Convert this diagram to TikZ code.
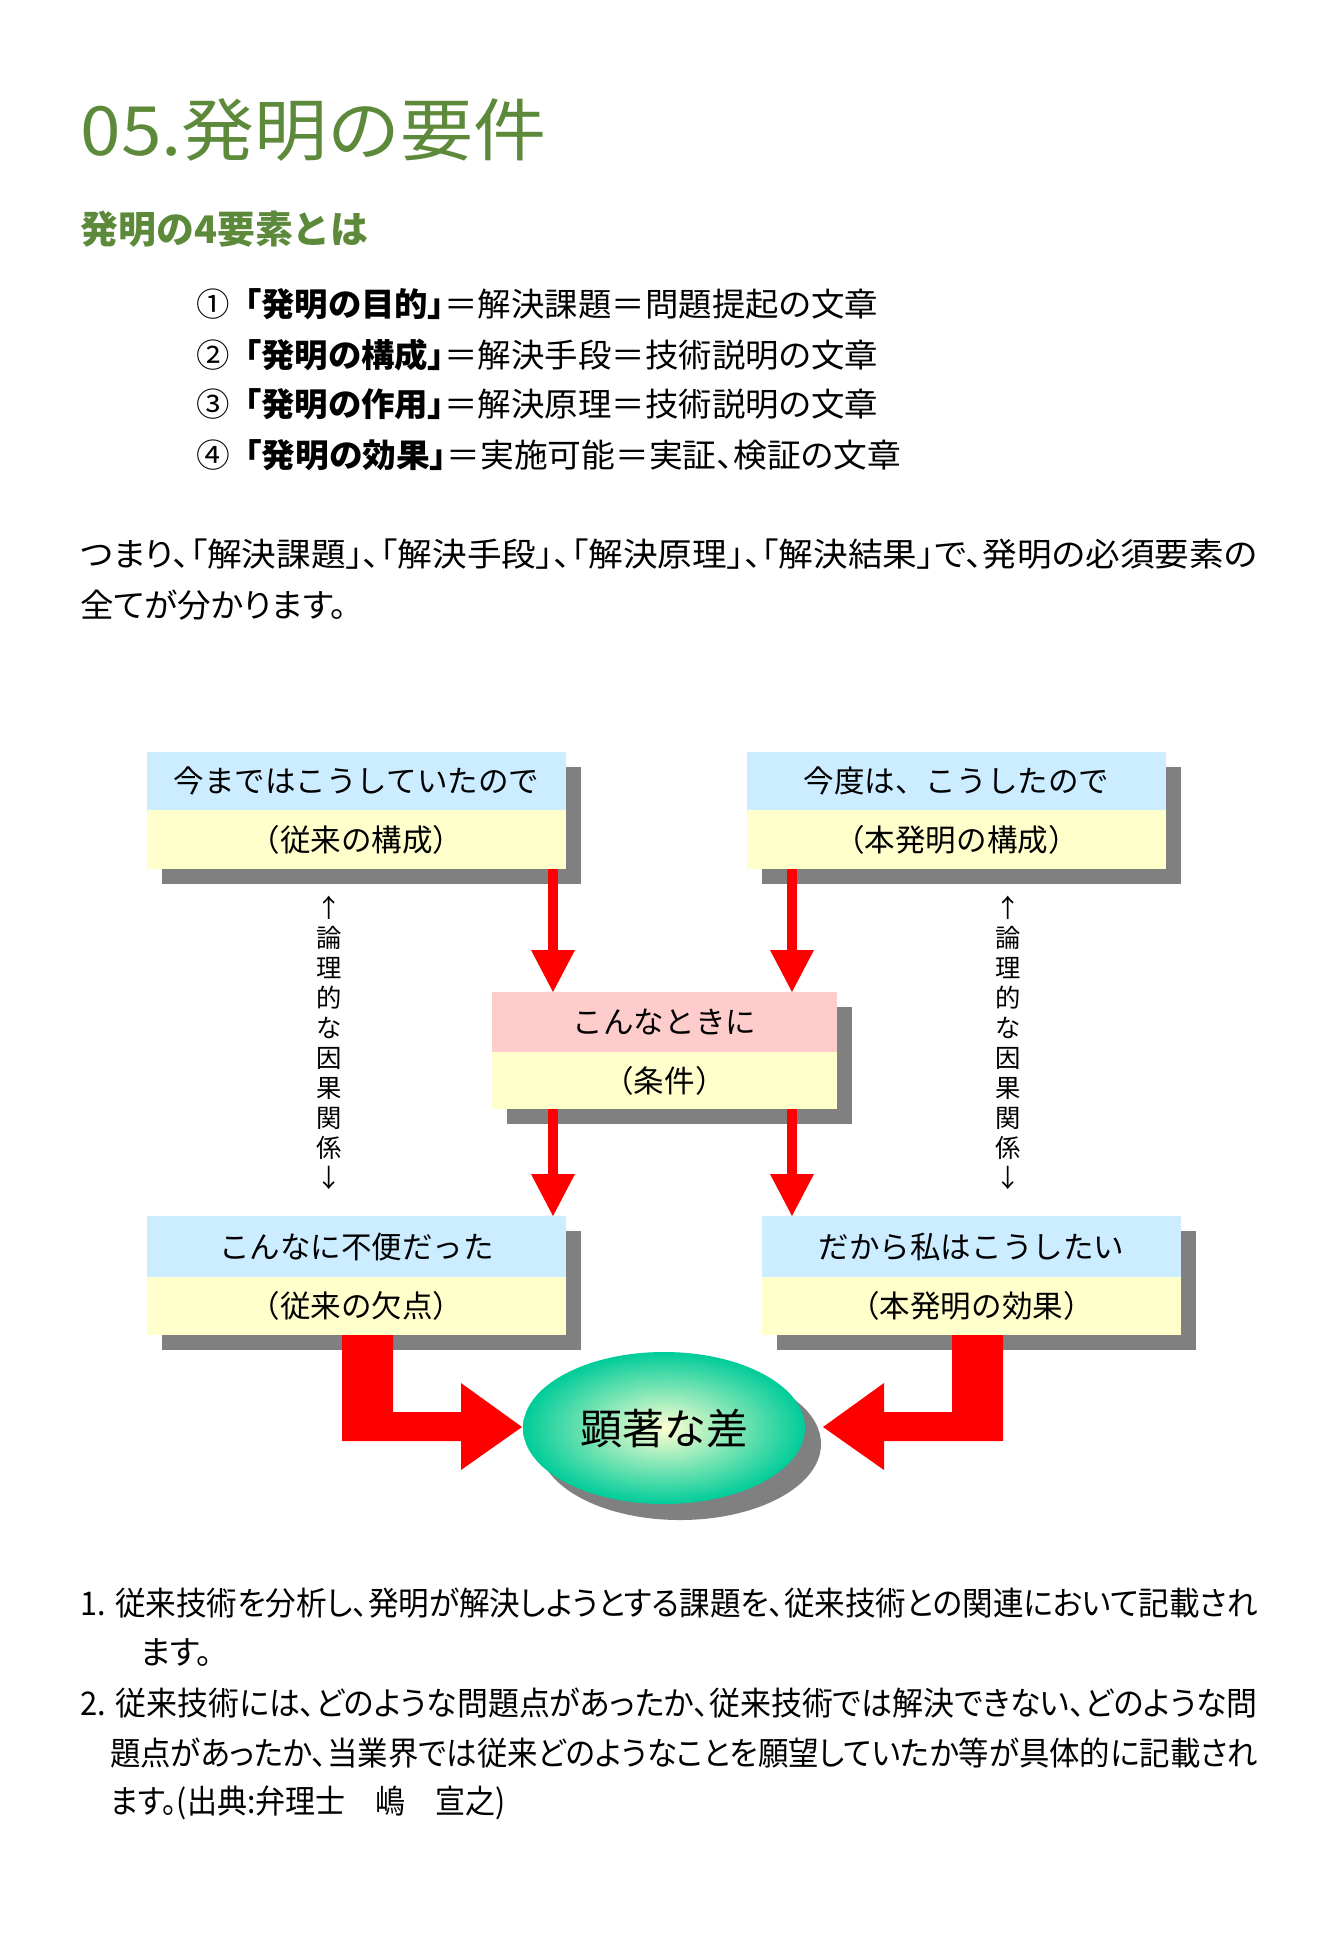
\documentclass[tikz,border=0pt]{standalone}
\usepackage{fontspec}
\usepackage{graphicx}
\usetikzlibrary{shapes.geometric,shadows,calc,arrows.meta}
\setmainfont{Noto Sans CJK JP}
\newfontfamily\jp{Noto Sans CJK JP}
\newfontfamily\jpp{Noto Sans CJK JP}[RawFeature=+palt]
\definecolor{titlegreen}{RGB}{92,138,58}
\definecolor{boxblue}{RGB}{204,236,255}
\definecolor{boxyellow}{RGB}{255,255,204}
\definecolor{boxpink}{RGB}{255,204,204}
\definecolor{shadowgray}{RGB}{128,128,128}
\definecolor{ellteal}{RGB}{0,204,153}
\definecolor{ellcenter}{RGB}{255,255,210}
\newcommand\fitw[2]{\resizebox{#1}{\height}{#2}}
\begin{document}
\begin{tikzpicture}[x=0.75pt,y=-0.75pt,
  boxshadow/.style={drop shadow={shadow xshift=11.25pt,shadow yshift=-11.25pt,fill=shadowgray,opacity=1}},
  half/.style={rectangle,inner sep=0pt,outer sep=0pt,draw=none,boxshadow,
     font={\jp\fontsize{22.9pt}{27pt}\selectfont}},
  wide/.style={half,minimum width=314.25pt},
  mid/.style={half,minimum width=258.75pt},
  txtline/.style={inner sep=0pt,outer sep=0pt,anchor=west,font={\jpp\fontsize{24.5pt}{30pt}\selectfont}},
  vlabel/.style={inner sep=0pt,align=center,font={\jp\fontsize{19pt}{22.5pt}\selectfont}},
  smallarr/.style={draw=red,line width=7.5pt,-{Triangle[length=31.5pt,width=33pt,line width=0pt]}},
  bigarr/.style={fill=red,draw=none}
]
\fill[white] (0,0) rectangle (1339,1945);
\useasboundingbox (0,0) rectangle (1339,1945);

% headings
\node[txtline,text=titlegreen,font={\jp\fontsize{51pt}{60pt}\selectfont}] (title) at (80.6,130) {\fitw{349.5pt}{05.発明の要件}};
\node[txtline,text=titlegreen,font={\jp\bfseries\fontsize{28.5pt}{34pt}\selectfont}] (sub) at (80.6,229) {\fitw{216pt}{発明の4要素とは}};

% list
\node[txtline] (l1) at (196,304) {\fitw{511.5pt}{①\ \ {\bfseries 「発明の目的」}＝解決課題＝問題提起の文章}};
\node[txtline] (l2) at (196,355) {\fitw{511.5pt}{②\ \ {\bfseries 「発明の構成」}＝解決手段＝技術説明の文章}};
\node[txtline] (l3) at (196,404) {\fitw{511.5pt}{③\ \ {\bfseries 「発明の作用」}＝解決原理＝技術説明の文章}};
\node[txtline] (l4) at (196,455) {\fitw{528.75pt}{④\ \ {\bfseries 「発明の効果」}＝実施可能＝実証、検証の文章}};

% paragraph
\node[txtline] (p1) at (80.6,554) {\fitw{882.75pt}{つまり、「解決課題」、「解決手段」、「解決原理」、「解決結果」で、発明の必須要素の}};
\node[txtline] (p2) at (80.6,605) {\fitw{199.5pt}{全てが分かります。}};

% boxes
\node[wide,fill=boxblue,minimum height=43.5pt] (A1) at (356.5,781) {今まではこうしていたので};
\node[wide,fill=boxyellow,minimum height=44.25pt] (A2) at (356.5,839.5) {（従来の構成）};
\node[wide,fill=boxblue,minimum height=43.5pt] (B1) at (956.5,781) {今度は、こうしたので};
\node[wide,fill=boxyellow,minimum height=44.25pt] (B2) at (956.5,839.5) {（本発明の構成）};
\node[mid,fill=boxpink,minimum height=45pt] (C1) at (664.5,1022) {こんなときに};
\node[mid,fill=boxyellow,minimum height=42.75pt] (C2) at (664.5,1080.5) {（条件）};
\node[wide,fill=boxblue,minimum height=45.75pt] (D1) at (356.5,1246.5) {こんなに不便だった};
\node[wide,fill=boxyellow,minimum height=43.5pt] (D2) at (356.5,1306) {（従来の欠点）};
\node[wide,fill=boxblue,minimum height=45.75pt] (E1) at (971.5,1246.5) {だから私はこうしたい};
\node[wide,fill=boxyellow,minimum height=43.5pt] (E2) at (971.5,1306) {（本発明の効果）};

% vertical labels
\node[vlabel] (L1) at (329,1043) {↑\\論\\理\\的\\な\\因\\果\\関\\係\\↓};
\node[vlabel] (L2) at (1008,1043) {↑\\論\\理\\的\\な\\因\\果\\関\\係\\↓};

% small arrows
\coordinate (s1) at ($(A2.south east)+(-13,0)$);
\coordinate (s2) at ($(B2.south west)+(45,0)$);
\coordinate (s3) at ($(C2.south west)+(61,0)$);
\coordinate (s4) at ($(C2.south east)+(-45,0)$);
\draw[smallarr] (s1) -- (s1 |- C1.north);
\draw[smallarr] (s2) -- (s2 |- C1.north);
\draw[smallarr] (s3) -- (s3 |- D1.north);
\draw[smallarr] (s4) -- (s4 |- E1.north);

% ellipse
\node[ellipse,minimum width=211.5pt,minimum height=114pt,inner sep=0pt,
  inner color=ellcenter,outer color=ellteal,
  drop shadow={shadow xshift=12pt,shadow yshift=-12pt,fill=shadowgray,opacity=1},
  font={\jp\fontsize{31.5pt}{36pt}\selectfont}] (G) at (664,1428) {顕著な差};

% big arrows
\fill[bigarr] (342,1335) -- (393,1335) -- (393,1412) -- (461,1412) -- (461,1383)
   -- (522,1427) -- (461,1470) -- (461,1441) -- (342,1441) -- cycle;
\fill[bigarr] (952,1335) -- (1003,1335) -- (1003,1441) -- (884,1441) -- (884,1470)
   -- (823,1427) -- (884,1383) -- (884,1412) -- (952,1412) -- cycle;

% notes
\node[txtline] (n1) at (80.6,1603) {\fitw{882.75pt}{1. 従来技術を分析し、発明が解決しようとする課題を、従来技術との関連において記載され}};
\node[txtline] (n1b) at (140,1653) {ます。};
\node[txtline] (n2) at (80.6,1703) {\fitw{882.75pt}{2. 従来技術には、どのような問題点があったか、従来技術では解決できない、どのような問}};
\node[txtline] (n3) at (110,1753) {\fitw{861pt}{題点があったか、当業界では従来どのようなことを願望していたか等が具体的に記載され}};
\node[txtline] (n4) at (110,1803) {\fitw{297pt}{ます。(出典:弁理士　嶋　宣之)}};
\end{tikzpicture}
\end{document}
